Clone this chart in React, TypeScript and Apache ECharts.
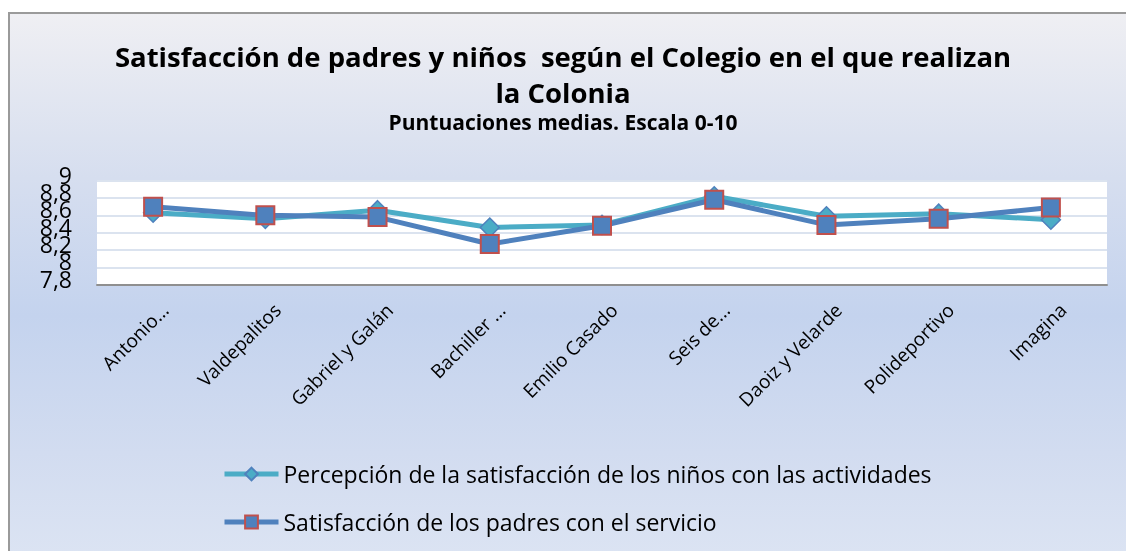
import React, { useEffect, useRef } from "react";
import * as echarts from "echarts";

const categories = [
  "Antonio...",
  "Valdepalitos",
  "Gabriel y Galán",
  "Bachiller ...",
  "Emilio Casado",
  "Seis de...",
  "Daoiz y Velarde",
  "Polideportivo",
  "Imagina",
];
const ninos = [8.63, 8.56, 8.66, 8.46, 8.49, 8.82, 8.59, 8.62, 8.55];
const padres = [8.7, 8.6, 8.58, 8.27, 8.48, 8.78, 8.49, 8.56, 8.69];
const seriesNames = [
  "Percepción de la satisfacción de los niños con las actividades",
  "Satisfacción de los padres con el servicio",
];
const yMin = 7.8;
const yMax = 9;
const yStep = 0.2;

const FONT = "'Open Sans', Lato, sans-serif";

const fmt = (v: number) => String(Math.round(v * 10) / 10).replace(".", ",");

const richLabel = {
  n: {
    fontFamily: FONT,
    fontSize: 23,
    color: "#000",
    height: 8,
    lineHeight: 8,
    padding: [0, 0, 12, 0],
  },
};

export default function App() {
  const ref = useRef<HTMLDivElement>(null);
  useEffect(() => {
    if (!ref.current) return;
    const chart = echarts.init(ref.current, null, { renderer: "svg" });
    chart.setOption({
      animation: false,
      textStyle: { fontFamily: FONT },
      graphic: [
        {
          type: "rect",
          z: -10,
          silent: true,
          shape: { x: 9, y: 13, width: 1130, height: 550 },
          style: {
            fill: new echarts.graphic.LinearGradient(0, 0, 0, 1, [
              { offset: 0, color: "#efeff3" },
              { offset: 0.3, color: "#d6deef" },
              { offset: 0.55, color: "#c4d3ee" },
              { offset: 0.8, color: "#d2dcf0" },
              { offset: 1, color: "#dce4f3" },
            ]),
            stroke: "#9a9a9a",
            lineWidth: 2,
          },
        },
        {
          type: "rect",
          z: -5,
          silent: true,
          shape: { x: 97, y: 180.7, width: 1010, height: 104 },
          style: { fill: "#ffffff" },
        },
      ],
      title: [
        {
          text: "Satisfacción de padres y niños  según el Colegio en el que realizan\nla Colonia",
          left: "center",
          top: 33,
          textStyle: {
            fontFamily: FONT,
            fontSize: 27.5,
            fontWeight: "bold",
            color: "#000",
            lineHeight: 36,
          },
        },
        {
          text: "Puntuaciones medias. Escala 0-10",
          left: "center",
          top: 104,
          textStyle: {
            fontFamily: FONT,
            fontSize: 21,
            fontWeight: "bold",
            color: "#000",
            lineHeight: 26,
          },
        },
      ],
      grid: { left: 97, right: 19, top: 180.7, bottom: 266.3, containLabel: false },
      legend: {
        orient: "vertical",
        left: 217,
        top: 455,
        itemGap: 20,
        itemWidth: 54,
        itemHeight: 16,
        lineStyle: { width: 5 },
        textStyle: { fontFamily: FONT, fontSize: 23, color: "#000", lineHeight: 28 },
        data: seriesNames,
      },
      xAxis: {
        type: "category",
        data: categories,
        boundaryGap: true,
        axisLine: { show: true, lineStyle: { color: "#8f8f8f", width: 2 } },
        axisTick: { show: false },
        axisLabel: {
          rotate: 45,
          margin: 10,
          fontFamily: FONT,
          fontSize: 19,
          color: "#000",
          interval: 0,
          verticalAlign: "top",
          lineHeight: 34,
        },
      },
      yAxis: [
        {
          type: "value",
          min: yMin,
          max: yMax,
          interval: yStep,
          position: "left",
          axisLine: { show: false },
          axisTick: { show: false },
          splitLine: { show: true, lineStyle: { color: "#dbe3ef", width: 2 } },
          axisLabel: {
            margin: 25,
            showMinLabel: false,
            showMaxLabel: false,
            hideOverlap: false,
            formatter: (v: number) => "{n|" + fmt(v) + "}",
            rich: richLabel,
          },
        },
        {
          type: "value",
          min: yMin,
          max: yMax,
          interval: yStep,
          position: "left",
          offset: 0,
          axisLine: { show: false },
          axisTick: { show: false },
          splitLine: { show: false },
          axisLabel: {
            margin: 25,
            showMinLabel: true,
            showMaxLabel: true,
            hideOverlap: false,
            formatter: (v: number) =>
              Math.abs(v - yMin) < 1e-6 || Math.abs(v - yMax) < 1e-6
                ? "{n|" + fmt(v) + "}"
                : "",
            rich: richLabel,
          },
        },
      ],
      series: [
        {
          name: seriesNames[0],
          type: "line",
          data: ninos,
          symbol: "diamond",
          symbolSize: 19,
          lineStyle: { color: "#4bacc6", width: 5 },
          itemStyle: { color: "#4bacc6", borderColor: "#4f81bd", borderWidth: 1.5 },
          z: 3,
        },
        {
          name: seriesNames[1],
          type: "line",
          data: padres,
          symbol: "rect",
          symbolSize: 18,
          lineStyle: { color: "#4f81bd", width: 5 },
          itemStyle: { color: "#4f81bd", borderColor: "#c0504d", borderWidth: 2 },
          z: 4,
        },
      ],
    });
    return () => chart.dispose();
  }, []);
  return (
    <div
      ref={ref}
      style={{ position: "fixed", left: 0, top: 0, width: 1126, height: 551 }}
    />
  );
}
